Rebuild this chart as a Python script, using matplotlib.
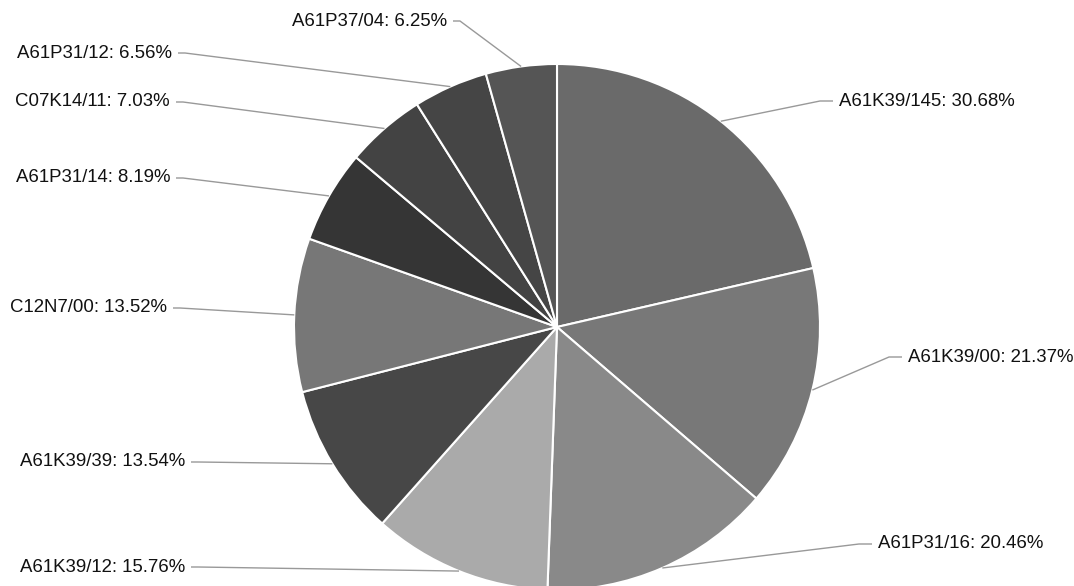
import numpy as np
import matplotlib
matplotlib.use("Agg")
import matplotlib.pyplot as plt

plt.rcParams['font.family'] = ['Liberation Sans', 'DejaVu Sans']

# ---- data ----
categories = ["A61K39/145", "A61K39/00", "A61P31/16", "A61K39/12", "A61K39/39",
              "C12N7/00", "A61P31/14", "C07K14/11", "A61P31/12", "A61P37/04"]
values = [30.68, 21.37, 20.46, 15.76, 13.54, 13.52, 8.19, 7.03, 6.56, 6.25]
colors = ["#6a6a6a", "#787878", "#898989", "#aaaaaa", "#474747",
          "#777777", "#353535", "#434343", "#454545", "#555555"]

# ---- layout (pixel coordinates, y from top) ----
W, H = 1074, 586
cx, cy, R = 557, 327, 263
# label anchor: (x, y, side) ; side 'r' -> text starts at x ; 'l' -> text ends at x
label_pos = [(839, 101, 'r'), (908, 357, 'r'), (878, 544, 'r'), (185, 567, 'l'),
             (185, 462, 'l'), (167, 308, 'l'), (170, 178, 'l'), (170, 102, 'l'),
             (172, 53, 'l'), (447, 21, 'l')]

fig = plt.figure(figsize=(W / 100, H / 100), dpi=100)
ax = fig.add_axes([0, 0, 1, 1])
wedges, _ = ax.pie(values, colors=colors, startangle=90, counterclock=False,
                   center=(cx, H - cy), radius=R,
                   wedgeprops=dict(edgecolor='white', linewidth=1.5))
ax.set_xlim(0, W)
ax.set_ylim(0, H)
ax.set_aspect('auto')
ax.axis('off')

for w, cat, val, (tx, ty, side) in zip(wedges, categories, values, label_pos):
    mid = np.deg2rad((w.theta1 + w.theta2) / 2)
    sx = cx + R * np.cos(mid)
    sy = (H - cy) + R * np.sin(mid)
    Y = H - ty
    if side == 'r':
        xs = [sx, tx - 19, tx - 6]
        ha = 'left'
    else:
        xs = [sx, tx + 13, tx + 6]
        ha = 'right'
    ax.plot(xs, [sy, Y, Y], color='#999999', lw=1.0, solid_capstyle='butt')
    ax.text(tx, Y, f"{cat}: {val:.2f}%", ha=ha, va='center',
            fontsize=13.4, color='#111111')

fig.savefig("out.png", dpi=100)
